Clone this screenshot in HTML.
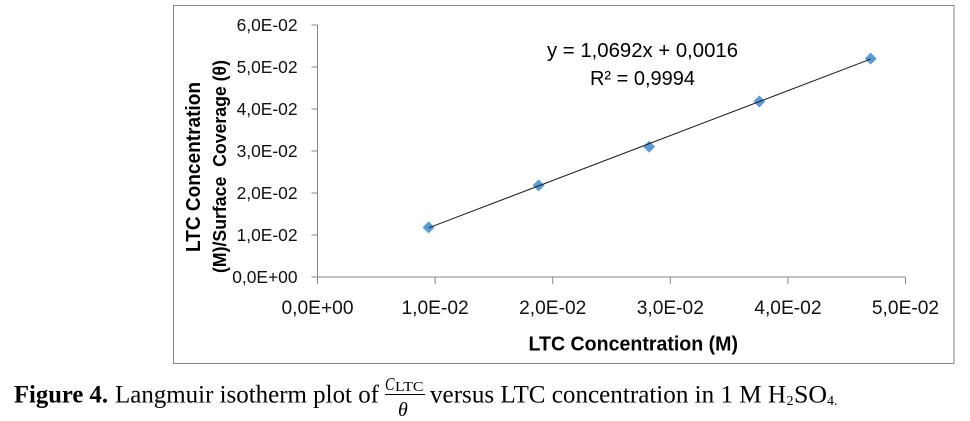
<!DOCTYPE html>
<html lang="en">
<head>
<meta charset="utf-8">
<title>Langmuir isotherm plot</title>
<style>
  html, body { margin: 0; padding: 0; background: #fff; width: 970px; height: 421px; overflow: hidden; }
  svg { display: block; }
  .tick { font-family: "Liberation Sans", sans-serif; font-size: 17.4px; fill: #111; }
  .tick-x { font-family: "Liberation Sans", sans-serif; font-size: 19.2px; fill: #111; }
  .title { font-family: "Liberation Sans", sans-serif; font-weight: bold; fill: #000; }
  .cap { font-family: "Liberation Serif", serif; font-size: 25px; fill: #000; }
</style>
</head>
<body>
<svg id="chart" width="970" height="421" viewBox="0 0 970 421" xmlns="http://www.w3.org/2000/svg">
  <rect x="173.5" y="5.5" width="780.5" height="358" fill="#fff" stroke="#868686" stroke-width="1"/>
  <g id="plot"></g>

  <text class="title" x="547" y="57" textLength="191" lengthAdjust="spacingAndGlyphs" style="font-weight:normal;font-size:20px">y = 1,0692x + 0,0016</text>
  <text class="title" x="590" y="85" textLength="105" lengthAdjust="spacingAndGlyphs" style="font-weight:normal;font-size:20px">R² = 0,9994</text>

  <text class="title" x="528.5" y="350.5" textLength="209.5" lengthAdjust="spacingAndGlyphs" style="font-size:20px">LTC Concentration (M)</text>
  <text class="title" transform="translate(200,252) rotate(-90)" textLength="170" lengthAdjust="spacingAndGlyphs" style="font-size:20px">LTC Concentration</text>
  <text class="title" transform="translate(226,273) rotate(-90)" textLength="213" lengthAdjust="spacingAndGlyphs" style="font-size:18px">(M)/Surface&#160; Coverage (θ)</text>

  <g>
    <text class="cap" x="14" y="402.5" textLength="94" lengthAdjust="spacingAndGlyphs" style="font-weight:bold">Figure 4.</text>
    <text class="cap" x="115" y="402.5" textLength="264" lengthAdjust="spacingAndGlyphs">Langmuir isotherm plot of</text>
    <text class="cap" x="385" y="390" textLength="9.5" lengthAdjust="spacingAndGlyphs" style="font-style:italic;font-size:18px">C</text>
    <text class="cap" x="395" y="391" textLength="28.5" lengthAdjust="spacingAndGlyphs" style="font-size:13.5px">LTC</text>
    <line x1="385" y1="394.5" x2="425" y2="394.5" stroke="#000" stroke-width="1"/>
    <text class="cap" x="398" y="416" style="font-style:italic;font-size:20px">θ</text>
    <text class="cap" x="430" y="402.5" textLength="356" lengthAdjust="spacingAndGlyphs">versus LTC concentration in 1 M H</text>
    <text class="cap" x="786.5" y="405" style="font-size:14px">2</text>
    <text class="cap" x="794" y="402.5" textLength="33" lengthAdjust="spacingAndGlyphs">SO</text>
    <text class="cap" x="827" y="405" style="font-size:14px">4.</text>
  </g>
</svg>
<script>
const xTickValues = [0, 0.01, 0.02, 0.03, 0.04, 0.05];
const xTickLabels = ["0,0E+00", "1,0E-02", "2,0E-02", "3,0E-02", "4,0E-02", "5,0E-02"];
const yTickValues = [0, 0.01, 0.02, 0.03, 0.04, 0.05, 0.06];
const yTickLabels = ["0,0E+00", "1,0E-02", "2,0E-02", "3,0E-02", "4,0E-02", "5,0E-02", "6,0E-02"];
const concentrations = [0.00945, 0.0188, 0.0282, 0.03757, 0.04704];
const coverageRatios = [0.01183, 0.02183, 0.03102, 0.0418, 0.05198];
const trendSlope = 1.0692;
const trendIntercept = 0.0016;

const NS = "http://www.w3.org/2000/svg";
const plot = document.getElementById("plot");
const xAxisMax = 0.05, yAxisMax = 0.06;
const left = 317.5, right = 905.5, top_ = 25, bottom = 277;
const sx = function (v) { return left + (v / xAxisMax) * (right - left); };
const sy = function (v) { return bottom - (v / yAxisMax) * (bottom - top_); };
const axisColor = "#868686";

function make(tag, attrs) {
  const el = document.createElementNS(NS, tag);
  Object.keys(attrs).forEach(function (k) { el.setAttribute(k, attrs[k]); });
  plot.appendChild(el);
  return el;
}

const yAxis = make("line", { x1: left, y1: sy(yAxisMax), x2: left, y2: sy(0), stroke: axisColor });


const xAxis = make("line", { x1: sx(0), y1: bottom, x2: sx(xAxisMax), y2: bottom, stroke: axisColor });



yTickValues.forEach(function (v, i) {
  const t = make("line", { x1: left - 6, y1: sy(v), x2: left, y2: sy(v), stroke: axisColor });
  
  
  const l = make("text", { x: 297.5, y: sy(v) + 6.2, "text-anchor": "end", class: "tick" });
  
  
  l.textContent = yTickLabels[i];
});

xTickValues.forEach(function (v, i) {
  const t = make("line", { x1: sx(v), y1: bottom, x2: sx(v), y2: bottom + 7, stroke: axisColor });
  
  
  const l = make("text", { x: sx(v), y: 314, "text-anchor": "middle", class: "tick-x" });
  
  
  l.textContent = xTickLabels[i];
});

concentrations.forEach(function (c, i) {
  const px = sx(c), py = sy(coverageRatios[i]), r = 6;
  const m = make("polygon", {
    points: [px, py - r, px + r, py, px, py + r, px - r, py].join(" "),
    fill: "#5b9bd5"
  });
  
  
});

const xFirst = concentrations[0];
const xLast = concentrations[concentrations.length - 1];
const trend = make("line", {
  x1: sx(xFirst), y1: sy(trendSlope * xFirst + trendIntercept),
  x2: sx(xLast), y2: sy(trendSlope * xLast + trendIntercept),
  stroke: "#1a1a1a", "stroke-width": 1
});


</script>
</body>
</html>
